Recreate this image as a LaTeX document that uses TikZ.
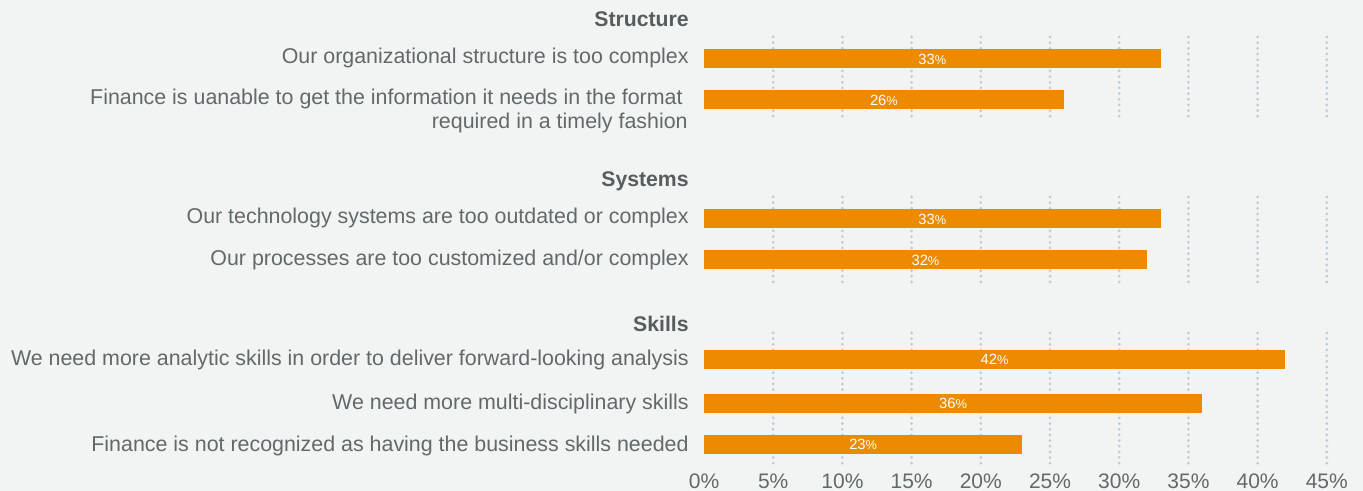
\documentclass[tikz,border=0pt]{standalone}
\usepackage{fontspec}
\setmainfont{Liberation Sans}
\usetikzlibrary{positioning}
\definecolor{chartbg}{HTML}{F2F3F3}
\definecolor{barorange}{HTML}{EC8B02}
\definecolor{gridblue}{HTML}{BFCCD4}
\definecolor{itemgray}{HTML}{62696B}
\definecolor{headgray}{HTML}{575D5F}
\tikzset{
  itemtext/.style={anchor=base east, inner sep=0pt, text=itemgray, font=\fontsize{10.7}{12}\selectfont},
  headtext/.style={anchor=base east, inner sep=0pt, text=headgray, font=\fontsize{10.6}{12}\selectfont\bfseries},
  pcttext/.style={inner sep=0pt, text=white, font=\fontsize{7.4}{9}\selectfont},
  ticktext/.style={anchor=base, inner sep=0pt, text=itemgray, font=\fontsize{10.5}{12}\selectfont},
  gridline/.style={gridblue, line width=1.5pt, line cap=round, dash pattern=on 0pt off 2.83pt},
}
\begin{document}
\begin{tikzpicture}[x=0.5pt, y=-0.5pt]
\def \zero {704}
\def \unit {13.84} % pixels per percent
\fill[chartbg] (0,0) rectangle (1363,491);

% dotted grid, one block per group
\foreach \top/\bot in {37/121, 197/283, 333/465}
  \foreach \k in {1,...,9}
    \draw[gridline] ({\zero+\k*5*\unit},\top) -- ({\zero+\k*5*\unit},\bot);

% bars
\foreach \v/\y/\n in {33/59/one, 26/100/two, 33/219/three, 32/260/four, 42/359.5/five, 36/403.5/six, 23/444.5/seven}
{
  \fill[barorange] (\zero,\y-9.5) rectangle ({\zero+\v*\unit},\y+9.5);
  \node[pcttext] (pct\n) at ({\zero+\v*\unit/2},\y) {\v{\fontsize{6.4}{8}\selectfont\%}};
}

% group headings
\node[headtext] (structure) at (689,27) {Structure};
\node[headtext] (systems) at (689,187) {Systems};
\node[headtext] (skills) at (689,331) {Skills};

% item texts
\node[itemtext] (itemone) at (689,64) {Our organizational structure is too complex};
\node[itemtext, align=right] (itemtwo) at (683,129) {Finance is uanable to get the information it needs in the format\\
required in a timely fashion\hspace*{-2.5pt}};
\node[itemtext] (itemthree) at (689,224) {Our technology systems are too outdated or complex};
\node[itemtext] (itemfour) at (689,266) {Our processes are too customized and/or complex};
\node[itemtext] (itemfive) at (689,365) {We need more analytic skills in order to deliver forward-looking analysis};
\node[itemtext] (itemsix) at (689,409) {We need more multi-disciplinary skills};
\node[itemtext] (itemseven) at (689,451) {Finance is not recognized as having the business skills needed};

% axis
\foreach \k in {0,...,9}
  \node[ticktext] (tick\k) at ({\zero+\k*5*\unit},488) {\pgfmathtruncatemacro\pc{5*\k}\pc\%};
\end{tikzpicture}
\end{document}
